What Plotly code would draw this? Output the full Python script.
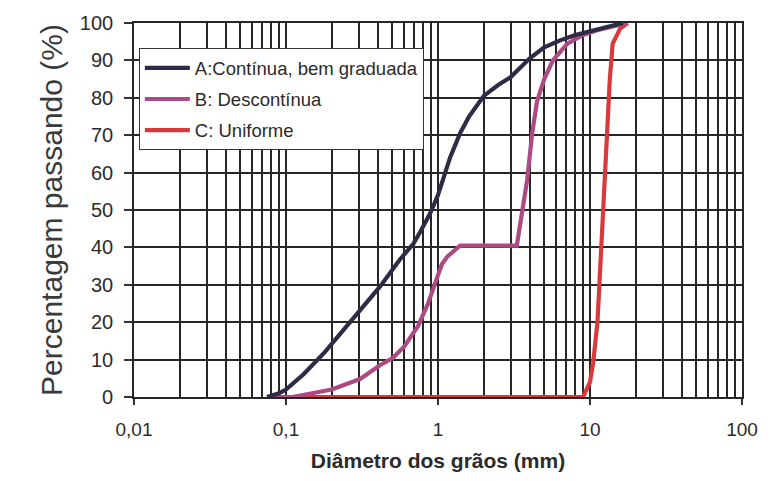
import plotly.graph_objects as go

# Curve A: continuous, well graded
a_diam = [0.075, 0.09, 0.1, 0.13, 0.18, 0.25, 0.3, 0.415, 0.56, 0.69, 0.76, 0.885, 1.0, 1.08,
          1.2, 1.4, 1.6, 2.0, 2.5, 3.0, 3.5, 4.0, 5.0, 6.3, 8.0, 10.0, 13.0, 16.5]
a_pass = [0, 1, 2, 6, 12, 19, 23, 29.5, 36.7, 41, 44, 49, 54, 58,
          64, 70.6, 75, 80.5, 83.5, 85.5, 88, 90.5, 93.5, 95.3, 96.8, 97.8, 99.2, 100]

# Curve B: gap graded
b_diam = [0.075, 0.11, 0.2, 0.307, 0.415, 0.506, 0.6, 0.74, 0.86, 0.98, 1.06, 1.15, 1.4,
          3.3, 3.57, 3.86, 4.15, 4.48, 5.0, 5.7, 7.1, 9.0, 11.0, 14.0, 17.5]
b_pass = [0, 0, 2, 4.8, 8.5, 10.5, 13.5, 19, 25, 31.4, 35.5, 37.5, 40.5,
          40.5, 49, 58, 70, 79, 85, 90, 94.5, 96.8, 98, 99, 100]

# Curve C: uniform
c_diam = [0.075, 9.0, 10.0, 10.5, 11.2, 12.0, 12.9, 13.5, 14.1, 15.8, 17.7]
c_pass = [0, 0, 4, 9.3, 20, 44.7, 70.6, 85, 94.5, 98.5, 100]

names = ["A:Contínua, bem graduada", "B: Descontínua", "C: Uniforme"]
colors = ["#2e2b45", "#ad4a84", "#d83a3c"]

x_tickvals = [0.01, 0.1, 1, 10, 100]
x_ticktext = ["0,01", "0,1", "1", "10", "100"]

FONT = "Liberation Sans, Arial, sans-serif"
GRID = "#262626"

fig = go.Figure()
for i, (xs, ys) in enumerate([(c_diam, c_pass), (b_diam, b_pass), (a_diam, a_pass)]):
    idx = 2 - i
    fig.add_trace(go.Scatter(
        x=xs, y=ys, mode="lines", name=names[idx],
        line=dict(color=colors[idx], width=4.2),
        legendgroup=f"g{idx}", legendrank=idx + 1,
    ))

fig.update_layout(
    width=771, height=481,
    margin=dict(l=134, r=29, t=22, b=83),
    paper_bgcolor="white", plot_bgcolor="white",
    font=dict(family=FONT, color="#2b2b2b"),
    showlegend=True,
    legend=dict(
        x=0.008, y=0.932, xanchor="left", yanchor="top",
        bgcolor="white", bordercolor="#333", borderwidth=1,
        font=dict(size=18.5, family=FONT, color="#2b2b2b"),
        tracegroupgap=4, itemwidth=45,
    ),
    xaxis=dict(
        type="log", range=[-2, 2],
        tickmode="array", tickvals=x_tickvals, ticktext=x_ticktext,
        showgrid=True, gridcolor=GRID, gridwidth=1.6,
        ticks="outside", ticklen=6, tickcolor="#333", tickwidth=1.5,
        ticklabelstandoff=8,
        tickfont=dict(size=19, family=FONT, color="#2b2b2b"),
        minor=dict(dtick="D1", showgrid=True, gridcolor=GRID, gridwidth=1.6, ticks=""),
        showline=True, linecolor=GRID, linewidth=1.6, mirror=True,
        zeroline=False,
        title=dict(text="<b>Diâmetro dos grãos (mm)</b>", standoff=15,
                   font=dict(size=21, family=FONT, color="#2b2b2b")),
    ),
    yaxis=dict(
        range=[0, 100], dtick=10,
        showgrid=True, gridcolor=GRID, gridwidth=1.6,
        ticks="outside", ticklen=8, tickcolor="#333", tickwidth=1.5,
        ticklabelstandoff=7,
        tickfont=dict(size=20, family=FONT, color="#2b2b2b"),
        showline=True, linecolor=GRID, linewidth=1.6, mirror=True,
        zeroline=False,
        title=dict(text="Percentagem passando (%)", standoff=8,
                   font=dict(size=30, family=FONT, color="#3a3a3a")),
    ),
)

fig.write_html("out.html")
